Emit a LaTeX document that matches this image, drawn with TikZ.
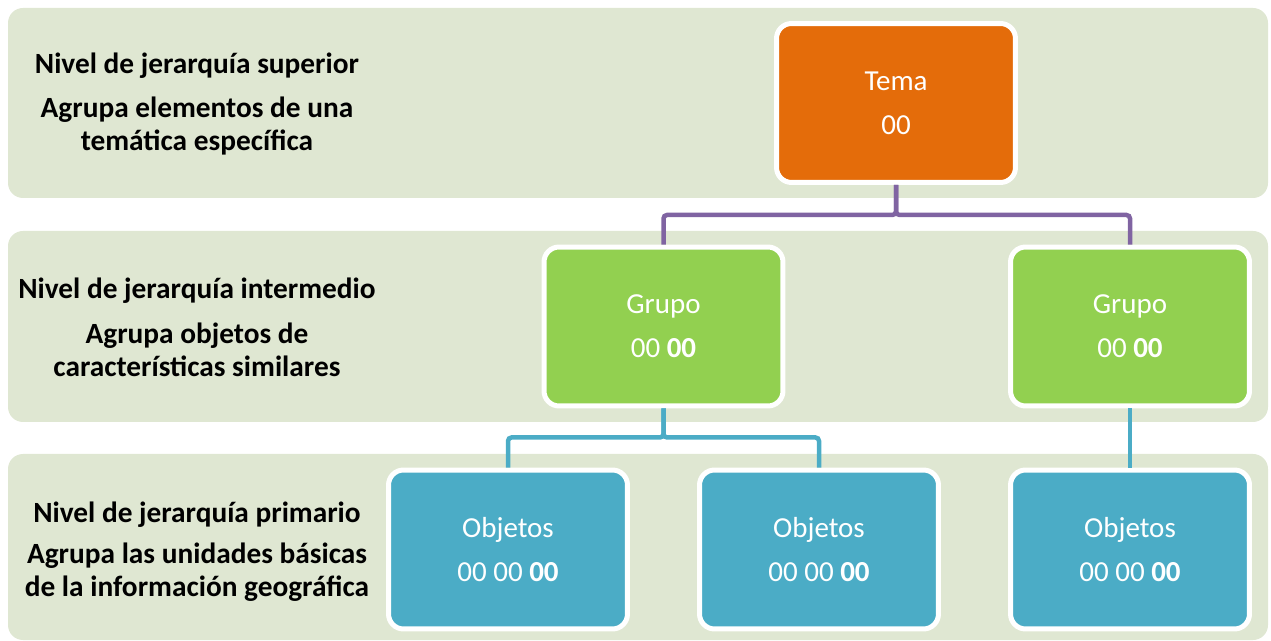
\documentclass[tikz,border=0pt]{standalone}
\usepackage{fontspec}
\setmainfont{Carlito}
\usepackage{tikz}

\definecolor{banda}{HTML}{DFE7D2}
\definecolor{naranja}{HTML}{E46C0A}
\definecolor{verde}{HTML}{92D050}
\definecolor{azul}{HTML}{4BACC6}
\definecolor{lila}{HTML}{8064A2}

\begin{document}
\begin{tikzpicture}[x=0.02cm, y=-0.02cm,
	caja/.style={draw=white, line width=0.1cm, rounded corners=0.3cm, minimum width=4.78cm, minimum height=3.18cm, text=white, align=center, font=\fontsize{16.5}{25}\selectfont},
	nivel/.style={align=center, font=\bfseries\fontsize{16.7}{19}\selectfont},
	linea/.style={line width=0.09cm, rounded corners=2pt}]
	\useasboundingbox (0,0) rectangle (1271,641);
	\fill [banda, rounded corners=0.3cm] (8,8) rectangle (1268,198);
	\fill [banda, rounded corners=0.3cm] (8,231) rectangle (1268,422);
	\fill [banda, rounded corners=0.3cm] (8,454) rectangle (1268,640);
	\node [nivel] (tsup) at (197,66) {Nivel de jerarquía superior};
	\node [nivel] (dsup) at (197,126) {Agrupa elementos de una\\temática específica};
	\node [nivel] (tint) at (197,291) {Nivel de jerarquía intermedio};
	\node [nivel] (dint) at (197,350) {Agrupa objetos de\\características similares};
	\node [nivel] (tpri) at (197,515) {Nivel de jerarquía primario};
	\node [nivel] (dpri) at (197,572) {Agrupa las unidades básicas\\de la información geográfica};
	\node [caja, fill=naranja] (tema) at (896,103) {Tema\\00};
	\node [caja, fill=verde] (grupoA) at (663.5,326.5) {Grupo\\00 \textbf{00}};
	\node [caja, fill=verde] (grupoB) at (1130,326.5) {Grupo\\00 \textbf{00}};
	\node [caja, fill=azul] (objA) at (508,549.5) {Objetos\\00 00 \textbf{00}};
	\node [caja, fill=azul] (objB) at (819,549.5) {Objetos\\00 00 \textbf{00}};
	\node [caja, fill=azul] (objC) at (1130,549.5) {Objetos\\00 00 \textbf{00}};
	\draw [linea, lila] (tema.south) -- ++(0,30) -| (grupoA.north);
	\draw [linea, lila] (tema.south) -- ++(0,30) -| (grupoB.north);
	\draw [linea, azul] (grupoA.south) -- ++(0,29) -| (objA.north);
	\draw [linea, azul] (grupoA.south) -- ++(0,29) -| (objB.north);
	\draw [linea, azul] (grupoB.south) -- (objC.north);
\end{tikzpicture}
\end{document}
